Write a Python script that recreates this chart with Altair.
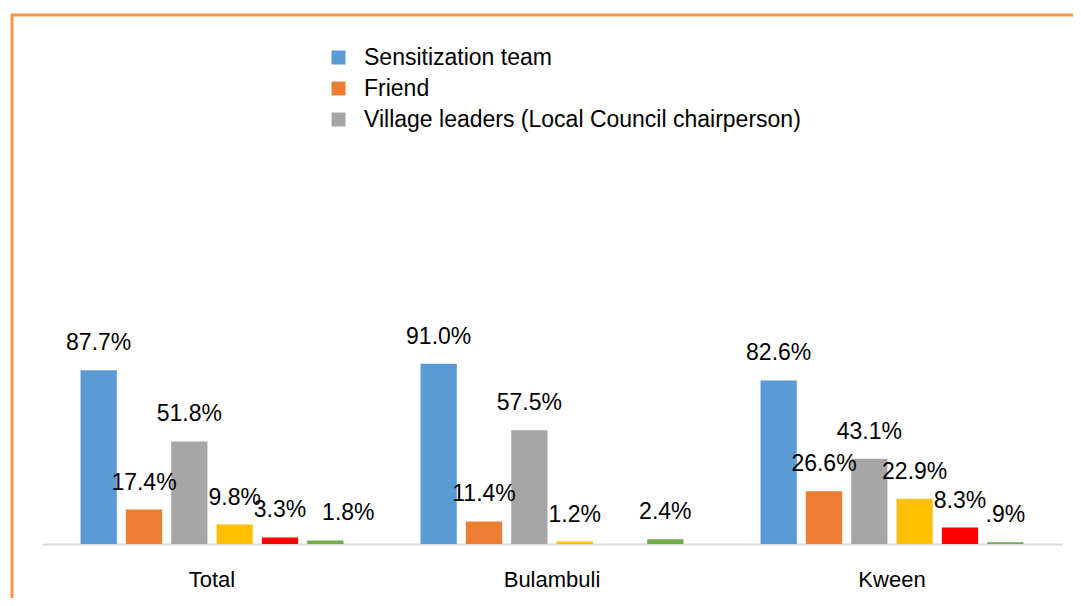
import altair as alt
import pandas as pd

groups = ["Total", "Bulambuli", "Kween"]
series_names = [
    "Sensitization team",
    "Friend",
    "Village leaders (Local Council chairperson)",
    "Source 4",
    "Source 5",
    "Source 6",
]
colors = ["#5B9BD5", "#ED7D31", "#A5A5A5", "#FFC000", "#FF0000", "#70AD47"]

sensitization = [87.7, 91.0, 82.6]
friend = [17.4, 11.4, 26.6]
village = [51.8, 57.5, 43.1]
source4 = [9.8, 1.2, 22.9]
source5 = [3.3, None, 8.3]
source6 = [1.8, 2.4, 0.9]

sensitization_lbl = ["87.7%", "91.0%", "82.6%"]
friend_lbl = ["17.4%", "11.4%", "26.6%"]
village_lbl = ["51.8%", "57.5%", "43.1%"]
source4_lbl = ["9.8%", "1.2%", "22.9%"]
source5_lbl = ["3.3%", "", "8.3%"]
source6_lbl = ["1.8%", "2.4%", ".9%"]

all_vals = [sensitization, friend, village, source4, source5, source6]
all_lbls = [sensitization_lbl, friend_lbl, village_lbl, source4_lbl, source5_lbl, source6_lbl]

rows = []
for s, vals, lbls in zip(series_names, all_vals, all_lbls):
    for g, v, l in zip(groups, vals, lbls):
        if v is None:
            continue
        rows.append({"group": g, "series": s, "value": v, "label": l})
df = pd.DataFrame(rows)

FONT = "Liberation Sans"

x = alt.X(
    "group:N",
    sort=groups,
    scale=alt.Scale(paddingInner=0.2, paddingOuter=0.1),
    axis=alt.Axis(
        title=None,
        labelAngle=0,
        labelFont=FONT,
        labelFontSize=22,
        labelColor="#000000",
        domainColor="#D9D9D9",
        domainWidth=2,
        ticks=False,
        labelPadding=25,
    ),
)
xo = alt.XOffset(
    "series:N",
    sort=series_names,
    scale=alt.Scale(domain=series_names, paddingInner=0.2, paddingOuter=0.1),
)
y = alt.Y("value:Q", scale=alt.Scale(domain=[0, 100]), axis=None)

color = alt.Color(
    "series:N",
    scale=alt.Scale(domain=series_names, range=colors),
    legend=alt.Legend(
        title=None,
        orient="none",
        legendX=285,
        legendY=-300,
        values=series_names[:3],
        symbolType="square",
        symbolSize=196,
        symbolStrokeWidth=0,
        labelFont=FONT,
        labelFontSize=23,
        labelColor="#000000",
        labelLimit=700,
        labelOffset=14,
        rowPadding=7,
        padding=0,
        direction="vertical",
    ),
)

bars = alt.Chart(df).mark_bar().encode(x=x, xOffset=xo, y=y, color=color)

is_shifted = (alt.datum.group == "Total") & (alt.datum.series == "Source 6")

text_main = (
    alt.Chart(df)
    .transform_filter(~is_shifted)
    .mark_text(font=FONT, fontSize=23, dy=-20, baseline="alphabetic", color="#000000")
    .encode(x=x, xOffset=xo, y=y, text="label:N")
)
text_shift = (
    alt.Chart(df)
    .transform_filter(is_shifted)
    .mark_text(font=FONT, fontSize=23, dy=-20, dx=23, baseline="alphabetic", color="#000000")
    .encode(x=x, xOffset=xo, y=y, text="label:N")
)

one = pd.DataFrame({"a": [0]})
border_top = alt.Chart(one).mark_rule(color="#F79646", strokeWidth=3).encode(
    x=alt.value(-31), x2=alt.value(1100), y=alt.value(-331)
)
border_left = alt.Chart(one).mark_rule(color="#F79646", strokeWidth=3).encode(
    x=alt.value(-30), y=alt.value(-332), y2=alt.value(400)
)

chart = (
    alt.layer(bars, text_main, text_shift, border_top, border_left)
    .properties(
        width=1020,
        height=198,
        autosize=alt.AutoSizeParams(type="none"),
        padding={"left": 34, "top": 338, "right": 11, "bottom": 54},
    )
    .configure_view(strokeWidth=0)
)

chart.save("out.html", embed_options={"renderer": "svg", "actions": False})
